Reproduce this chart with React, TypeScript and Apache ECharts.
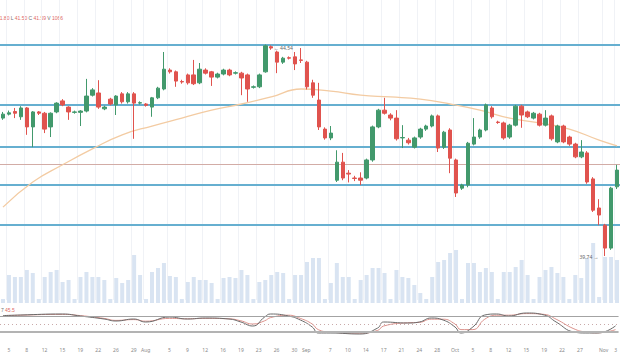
import { useEffect, useRef } from 'react';
import * as echarts from 'echarts';

// categories: trading days (Sun–Fri), 2021
const dates: string[] = [
  '07-04','07-05','07-06','07-07','07-08','07-09','07-11','07-12','07-13','07-14','07-15','07-16','07-18','07-19','07-20','07-21','07-22','07-23','07-25','07-26','07-27','07-28','07-29','07-30',
  '08-01','08-02','08-03','08-04','08-05','08-06','08-08','08-09','08-10','08-11','08-12','08-13','08-15','08-16','08-17','08-18','08-19','08-20','08-22','08-23','08-24','08-25','08-26','08-27','08-29','08-30','08-31',
  '09-01','09-02','09-03','09-06','09-07','09-08','09-09','09-10','09-12','09-13','09-14','09-15','09-16','09-17','09-19','09-20','09-21','09-22','09-23','09-24','09-26','09-27','09-28','09-29','09-30',
  '10-01','10-03','10-04','10-05','10-06','10-07','10-08','10-10','10-11','10-12','10-13','10-14','10-15','10-17','10-18','10-19','10-20','10-21','10-22','10-25','10-26','10-27','10-28','10-29','10-31',
  '11-01','11-02','11-03',
];

// [open, close, low, high]
const candles: number[][] = [
  [42.87,42.96,42.83,43.01],[42.96,42.99,42.93,43.04],[43.02,42.98,42.87,43.10],[42.90,43.10,42.83,43.14],[43.10,42.67,42.49,43.12],
  [42.67,43.01,42.21,43.03],[43.01,42.98,42.94,43.03],[42.98,42.62,42.53,43.01],[42.67,42.98,42.44,43.00],[43.01,43.21,42.98,43.23],
  [43.26,43.17,43.14,43.30],[43.12,43.01,42.83,43.14],[43.00,43.01,42.97,43.04],[43.00,43.03,42.69,43.05],[43.03,43.37,43.00,43.76],
  [43.39,43.51,43.36,43.55],[43.44,43.12,43.08,43.73],[43.08,43.12,43.05,43.15],[43.30,43.19,43.16,43.33],[43.17,43.37,42.94,43.39],
  [43.42,43.24,43.20,43.46],[43.24,43.42,43.20,43.46],[43.42,43.21,42.40,43.46],[43.21,43.22,43.18,43.25],[43.19,43.16,43.13,43.21],
  [43.12,43.33,42.90,43.35],[43.33,43.55,43.30,43.58],[43.53,43.98,43.50,44.37],[43.96,43.92,43.88,44.00],[43.92,43.71,43.58,43.95],
  [43.70,43.69,43.65,43.74],[43.85,43.67,43.63,43.88],[43.85,43.65,43.62,44.19],[43.67,43.98,43.64,44.12],[43.96,43.89,43.86,44.00],
  [43.92,43.80,43.60,43.94],[43.80,43.87,43.77,43.90],[43.87,43.96,43.84,43.99],[43.96,43.85,43.82,43.99],[43.89,43.90,43.86,43.93],
  [43.89,43.78,43.39,43.92],[43.85,43.53,43.24,43.88],[43.57,43.58,43.54,43.61],[43.58,43.85,43.55,43.88],[43.92,44.51,43.90,44.54],
  [44.49,44.46,44.42,44.52],[44.37,44.14,43.89,44.40],[44.14,44.23,44.10,44.26],[44.24,44.23,44.20,44.27],[44.26,44.10,43.96,44.37],
  [44.19,44.18,44.12,44.46],[44.14,43.58,43.52,44.17],[43.67,43.39,43.33,43.74],[43.28,42.67,42.60,43.67],[42.62,42.42,42.38,42.66],
  [42.42,42.53,42.37,42.69],[41.46,41.87,41.42,42.14],[41.87,41.51,41.46,42.08],[41.62,41.60,41.41,41.69],[41.51,41.50,41.44,41.56],
  [41.51,41.46,41.35,41.64],[41.51,41.92,41.48,41.95],[41.92,42.67,41.88,42.70],[42.67,43.05,42.64,43.08],[43.05,42.98,42.95,43.33],
  [42.94,42.87,42.82,42.98],[42.87,42.40,42.36,43.05],[42.42,42.43,42.19,42.71],[42.37,42.31,42.27,42.42],[42.21,42.42,42.18,42.45],
  [42.44,42.62,42.40,42.65],[42.62,42.69,42.58,42.72],[42.69,42.92,42.66,42.95],[42.92,42.19,42.10,42.95],[42.21,42.55,42.17,42.58],
  [42.60,41.96,41.62,42.64],[41.92,41.17,41.08,41.95],[41.28,41.35,41.24,41.38],[41.35,42.30,41.30,42.33],[42.28,42.44,42.25,42.87],
  [42.44,42.60,42.40,42.63],[42.60,43.17,42.57,43.20],[43.10,42.90,42.86,43.14],[42.78,42.77,42.74,42.81],[42.76,42.42,42.38,42.79],
  [42.44,42.71,42.40,42.74],[42.71,43.14,42.68,43.17],[43.14,42.94,42.65,43.17],[43.01,42.90,42.87,43.04],[42.87,42.98,42.84,43.01],
  [42.96,42.71,42.68,42.99],[42.71,42.87,42.68,43.05],[42.92,42.40,42.36,42.95],[42.33,42.69,42.30,42.72],[42.69,42.33,42.30,42.72],
  [42.44,42.28,42.24,42.47],[42.28,41.99,41.96,42.31],[41.99,42.10,41.96,42.37],[42.08,41.42,41.38,42.12],[41.49,40.78,40.74,41.53],
  [40.83,40.67,40.44,41.03],[40.44,39.92,39.74,40.47],[39.92,41.28,39.88,41.31],[41.31,41.69,41.26,41.81],
];

const volumes: number[] = [
  140,980,910,910,1155,1050,140,910,1085,1155,735,805,140,910,1085,910,910,805,140,875,700,805,1680,980,
  140,1085,1225,1400,945,910,140,735,910,805,805,700,140,875,910,875,1155,980,140,735,805,980,1085,1050,140,980,980,
  1435,1575,1575,140,700,1400,910,910,140,805,980,1225,1225,1050,140,1155,910,875,630,350,140,910,1435,1505,1750,
  1855,140,1400,1400,1085,1225,1085,140,1085,1085,1260,1505,980,140,910,1155,1260,1050,910,140,980,875,1575,2100,210,
  1610,1610,1505,
];

const levelLines: number[] = [44.53, 43.18, 42.21, 41.35, 40.44];
const pivotLine = 41.83;

// moving average, read at sample positions
const maIdx: number[] = [0, 5, 10, 15, 20, 25, 30, 35, 40, 45, 50, 55, 60, 65, 70, 75, 80, 85, 90, 95, 100, 103];
const maVals: number[] = [40.85, 41.42, 41.81, 42.17, 42.49, 42.69, 42.87, 43.05, 43.19, 43.35, 43.53, 43.48, 43.39, 43.35, 43.30, 43.19, 43.05, 42.87, 42.76, 42.62, 42.37, 42.24];

// oscillator (two lines), read at sample positions
const oscIdx: number[] = [0, 3, 10, 13, 17, 19, 22, 24, 28, 31, 34, 38, 40, 42, 44, 45, 48, 50, 52, 53, 55, 60, 63, 64, 68, 70, 72, 74, 76, 77, 79, 81, 83, 85, 88, 91, 93, 96, 98, 100, 103];
const oscMain: number[] = [71, 72.5, 75, 70, 62.5, 57.5, 62.5, 55, 67.5, 62.5, 65, 62.5, 55, 45, 67.5, 75, 70, 60, 42.5, 27.5, 27.5, 25, 40, 55, 52.5, 55, 65, 60, 42.5, 27.5, 42.5, 72.5, 75, 70, 77.5, 72.5, 55, 30, 27.5, 27.5, 45.5];
const oscSignal: number[] = [70, 72, 74, 71, 64, 59, 61, 57, 64, 63, 64, 63, 58, 50, 58, 66, 72, 64, 50, 36, 30, 27, 34, 45, 53, 54, 62, 62, 50, 36, 36, 62, 72, 72, 76, 74, 62, 38, 30, 28, 36];
const oscBands: number[] = [70, 50, 30];

const tickDates: string[] = ['07-05','07-08','07-12','07-15','07-19','07-22','07-26','07-29','08-01','08-05','08-09','08-12','08-16','08-19','08-23','08-26','08-30','09-01','09-07','09-10','09-14','09-17','09-21','09-24','09-28','10-01','10-05','10-08','10-12','10-15','10-19','10-22','10-27','11-01','11-03'];
const tickTexts: string[] = ['5','8','12','15','19','22','26','29','Aug','5','9','12','16','19','23','26','30','Sep','7','10','14','17','21','24','28','Oct','5','8','12','15','19','22','27','Nov','3'];

const highMark = { date: '08-24', value: 44.54 };
const lowMark = { date: '11-01', value: 39.74 };
const infoLabels: string[] = ['H', 'L', 'C', 'V'];
const infoValues: string[] = ['41.80', '41.50', '41.59', '1066'];
const oscLabel = '45.5';

const UP = '#42996c';
const DOWN = '#e0534e';
const LEVEL = '#66afd0';

export default function App() {
  const ref = useRef<HTMLDivElement>(null);
  useEffect(() => {
    if (!ref.current) return;
    const chart = echarts.init(ref.current, null, { renderer: 'svg' });
    const tickMap = new Map<string, string>(tickDates.map((d, k) => [d, tickTexts[k]]));
    const showTick = (_i: number, v: string) => tickMap.has(v);
    const gridBox = { left: -2, width: 622 };
    const xBase: any = {
      type: 'category', data: dates, boundaryGap: true,
      axisLine: { show: false }, axisTick: { show: false }, axisLabel: { show: false }, splitLine: { show: false },
    };
    const info = infoLabels.map((l, k) => `{l|${l}} {v|${infoValues[k]}}`).join(' ');
    const option: any = {
      animation: false,
      backgroundColor: '#ffffff',
      grid: [
        { ...gridBox, top: 0, height: 300 },
        { ...gridBox, top: 230, height: 73 },
        { ...gridBox, top: 304, height: 40 },
      ],
      xAxis: [
        { ...xBase, gridIndex: 0, splitLine: { show: true, interval: showTick, lineStyle: { color: '#f0f2f6', width: 1 } } },
        { ...xBase, gridIndex: 1 },
        { ...xBase, gridIndex: 2, axisLabel: { show: true, interval: showTick, formatter: (v: string) => tickMap.get(v) || '', fontSize: 5, color: '#8a8a8a', margin: 3, fontFamily: 'Noto Sans' } },
      ],
      yAxis: [
        { gridIndex: 0, min: 38.742, max: 45.55, show: false },
        { gridIndex: 1, min: 0, max: 2555, show: false },
        { gridIndex: 2, min: 0, max: 100, show: false },
      ],
      series: [
        {
          type: 'bar', xAxisIndex: 1, yAxisIndex: 1, data: volumes, barWidth: 4, z: 1,
          itemStyle: { color: '#d9e4f2' }, silent: true,
        },
        {
          type: 'candlestick', xAxisIndex: 0, yAxisIndex: 0, data: candles, barWidth: 4, z: 5,
          itemStyle: { color: UP, color0: DOWN, borderColor: UP, borderColor0: DOWN, borderWidth: 1 },
          markLine: {
            silent: true, symbol: ['none', 'none'], label: { show: false }, z: 2,
            data: [
              ...levelLines.map((v) => ({ yAxis: v, lineStyle: { color: LEVEL, width: 2, type: 'solid' } })),
              { yAxis: pivotLine, lineStyle: { color: '#d2aca6', width: 1, type: 'solid' } },
            ],
          },
          markPoint: {
            symbol: 'circle', symbolSize: 1, itemStyle: { color: 'rgba(0,0,0,0)' }, silent: true,
            label: { show: true, fontSize: 5, color: '#666', fontFamily: 'Noto Sans' },
            data: [
              { coord: [highMark.date, highMark.value], label: { position: 'right', formatter: '← ' + highMark.value.toFixed(2), offset: [3, 3] } },
              { coord: [lowMark.date, lowMark.value], label: { position: 'left', formatter: lowMark.value.toFixed(2) + ' →', offset: [-1, 1] } },
            ],
          },
        },
        {
          type: 'line', xAxisIndex: 0, yAxisIndex: 0, data: maIdx.map((i, k) => [i, maVals[k]]),
          smooth: true, showSymbol: false, z: 3, silent: true,
          lineStyle: { color: '#f3cba2', width: 1.3 },
        },
        {
          type: 'line', xAxisIndex: 2, yAxisIndex: 2, data: oscIdx.map((i, k) => [i, oscSignal[k]]),
          smooth: true, showSymbol: false, z: 3, silent: true,
          lineStyle: { color: '#dc938d', width: 1 },
          markLine: {
            silent: true, symbol: ['none', 'none'], label: { show: false },
            data: [
              { yAxis: oscBands[0], lineStyle: { color: '#a3a3a3', width: 1, type: 'solid' } },
              { yAxis: oscBands[1], lineStyle: { color: '#c9a9a9', width: 1, type: [1, 3] } },
              { yAxis: oscBands[2], lineStyle: { color: '#b3b3b3', width: 2, type: 'solid' } },
            ],
          },
        },
        {
          type: 'line', xAxisIndex: 2, yAxisIndex: 2, data: oscIdx.map((i, k) => [i, oscMain[k]]),
          smooth: true, showSymbol: false, z: 4, silent: true,
          lineStyle: { color: '#6a6a6a', width: 1 },
        },
      ],
      graphic: [
        {
          type: 'text', left: -8, top: 15, silent: true,
          style: {
            text: info, fontSize: 5, fontFamily: 'Noto Sans',
            rich: { l: { fill: '#707070', fontSize: 5 }, v: { fill: '#e06a66', fontSize: 5 } },
          },
        },
        {
          type: 'text', left: 1, top: 307, silent: true,
          style: { text: `{l|7} {v|${oscLabel}}`, fontSize: 5, fontFamily: 'Noto Sans', rich: { l: { fill: '#707070', fontSize: 5 }, v: { fill: '#e06a66', fontSize: 5 } } },
        },
      ],
    };
    chart.setOption(option);
    return () => chart.dispose();
  }, []);
  return <div ref={ref} style={{ position: 'fixed', left: 0, top: 0, width: 620, height: 364, background: '#fff' }} />;
}
